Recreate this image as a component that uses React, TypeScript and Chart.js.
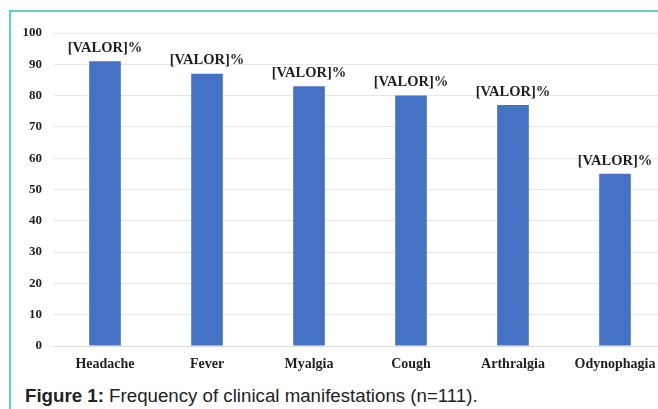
import React, { useEffect, useRef } from "react";
import { Chart, registerables } from "chart.js";

Chart.register(...registerables);

const categories = ["Headache", "Fever", "Myalgia", "Cough", "Arthralgia", "Odynophagia"];
const values = [91, 87, 83, 80, 77, 55];
const valueLabels = ["[VALOR]%", "[VALOR]%", "[VALOR]%", "[VALOR]%", "[VALOR]%", "[VALOR]%"];
const yTicks = [0, 10, 20, 30, 40, 50, 60, 70, 80, 90, 100];

const SERIF = "'Liberation Serif', 'Times New Roman', serif";

const labelPlugin = {
  id: "valueLabels",
  afterDatasetsDraw(chart: any) {
    const ctx = chart.ctx;
    const meta = chart.getDatasetMeta(0);
    ctx.save();
    ctx.font = `bold 14.5px ${SERIF}`;
    ctx.fillStyle = "#1f1f1f";
    ctx.textAlign = "center";
    ctx.textBaseline = "middle";
    meta.data.forEach((bar: any, i: number) => {
      ctx.fillText(valueLabels[i], bar.x, bar.y - 13);
    });
    ctx.restore();
  },
};

export default function App() {
  const ref = useRef<HTMLCanvasElement>(null);

  useEffect(() => {
    document.body.style.margin = "0";
    document.body.style.overflow = "hidden";
    const chart = new Chart(ref.current!, {
      type: "bar",
      data: {
        labels: categories,
        datasets: [
          {
            data: values,
            backgroundColor: "#4472c4",
            borderWidth: 0,
            categoryPercentage: 1,
            barPercentage: 0.31,
          },
        ],
      },
      options: {
        responsive: false,
        animation: false,
        devicePixelRatio: 1,
        layout: { padding: { top: 33, left: 0, right: 0, bottom: 0 } },
        plugins: {
          legend: { display: false },
          tooltip: { enabled: false },
          title: { display: false },
        },
        scales: {
          x: {
            grid: { display: false, drawTicks: false },
            border: { display: true, color: "#d9d9d9", width: 1 },
            ticks: {
              color: "#1f1f1f",
              font: { family: SERIF, size: 14, weight: "bold" },
              padding: 10,
              maxRotation: 0,
              autoSkip: false,
            },
            afterFit: (s: any) => {
              s.height = 34;
            },
          },
          y: {
            min: 0,
            max: 100,
            afterBuildTicks: (s: any) => {
              s.ticks = yTicks.map((v) => ({ value: v }));
            },
            grid: { color: "#e6e6e6", lineWidth: 1, drawTicks: false },
            border: { display: false },
            ticks: {
              color: "#1f1f1f",
              font: { family: SERIF, size: 13, weight: "bold" },
              padding: 12,
            },
            afterFit: (s: any) => {
              s.width = 54;
            },
          },
        },
      },
      plugins: [labelPlugin],
    });
    return () => chart.destroy();
  }, []);

  return (
    <div
      style={{
        position: "relative",
        width: 658,
        height: 409,
        overflow: "hidden",
        background: "#ffffff",
      }}
    >
      <canvas
        ref={ref}
        width={666}
        height={380}
        style={{ position: "absolute", left: 0, top: 0, width: 666, height: 380 }}
      />
      <div
        style={{
          position: "absolute",
          left: 9,
          top: 10,
          width: 649,
          height: 2,
          background: "#5fd3c0",
        }}
      />
      <div
        style={{
          position: "absolute",
          left: 9,
          top: 10,
          width: 2,
          height: 399,
          background: "#5fd3c0",
        }}
      />
      <div
        style={{
          position: "absolute",
          left: 25,
          top: 385,
          fontFamily: "'Liberation Sans', Arial, sans-serif",
          fontSize: 18.7,
          lineHeight: "22px",
          color: "#222222",
          whiteSpace: "nowrap",
        }}
      >
        <b>Figure 1:</b> Frequency of clinical manifestations (n=111).
      </div>
    </div>
  );
}
